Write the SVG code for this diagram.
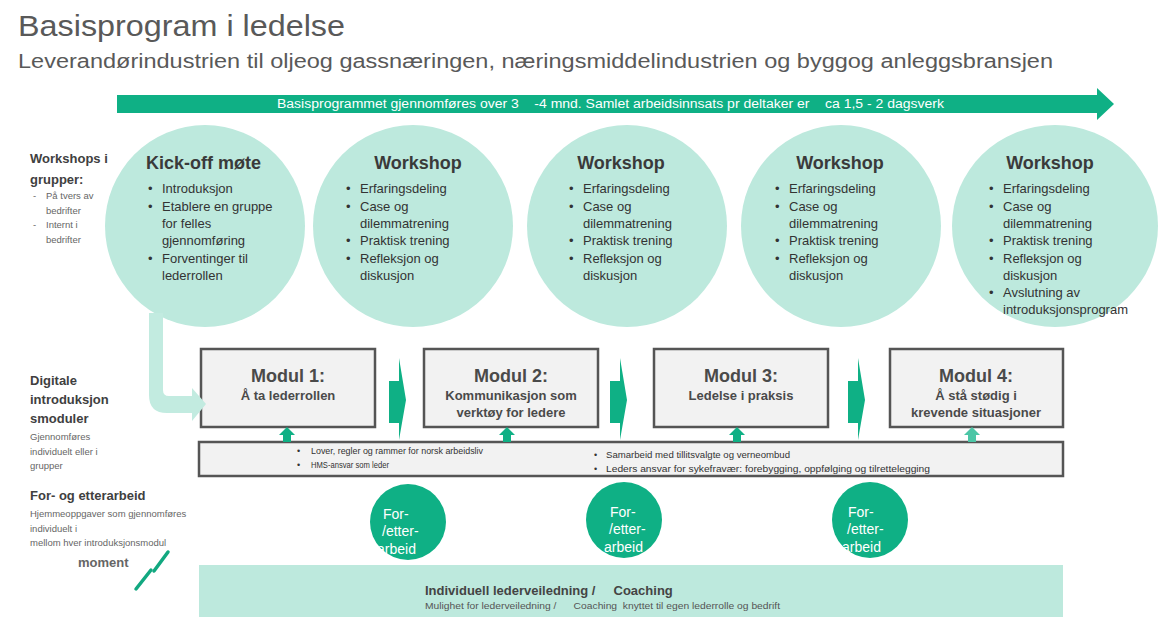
<svg xmlns="http://www.w3.org/2000/svg" width="1173" height="636" viewBox="0 0 1173 636">
<style>
  text { font-family: "Liberation Sans", Arial, sans-serif; }
  .pre { white-space: pre; }
  .title { font-size: 30px; fill: #595959; }
  .sub { font-size: 20px; fill: #595959; }
  .lbl { font-size: 13px; font-weight: bold; fill: #404040; }
  .small { font-size: 9.5px; fill: #666; }
  .ctitle { font-size: 18px; font-weight: bold; fill: #3a3a3a; }
  .ctext { font-size: 13px; fill: #333; }
  .mtitle { font-size: 18px; font-weight: bold; fill: #4a4a4a; text-anchor: middle; }
  .msub { font-size: 13px; font-weight: bold; fill: #4a4a4a; text-anchor: middle; }
  .bar { font-size: 9px; fill: #333; }
  .wc { fill: #bde9dd; }
  .box { fill: #f2f2f2; stroke: #555; stroke-width: 2.5; }
  .dark { fill: #0fb085; }
  .fe { font-size: 14px; fill: #fff; }
</style>
<defs>
  <path id="chev" d="M0,23 L10,23 L10,0 L17,42 L10,82 L10,65 L0,65 Z"/>
  <path id="up" d="M-8,8 L0,0 L8,8 L4,8 L4,15 L-4,15 L-4,8 Z"/>
</defs>
<rect width="1173" height="636" fill="#fff"/>

<g id="header">
  <text class="title" x="18" y="36" textLength="327" lengthAdjust="spacingAndGlyphs">Basisprogram i ledelse</text>
  <text class="sub" x="18" y="68" textLength="1035" lengthAdjust="spacingAndGlyphs">Leverandørindustrien til oljeog gassnæringen, næringsmiddelindustrien og byggog anleggsbransjen</text>
</g>

<g id="timeline">
  <path class="dark" d="M117,95 L1097,95 L1097,88 L1114,104 L1097,120 L1097,113 L117,113 Z"/>
  <text class="pre" xml:space="preserve" x="277" y="108" font-size="12" fill="#fff" textLength="667" lengthAdjust="spacingAndGlyphs">Basisprogrammet gjennomføres over 3    -4 mnd. Samlet arbeidsinnsats pr deltaker er    ca 1,5 - 2 dagsverk</text>
</g>

<g id="left-labels">
  <text class="lbl" x="30" y="163">Workshops i</text>
  <text class="lbl" x="30" y="184">grupper:</text>
  <text class="small" x="33" y="199" font-size="9">-</text>
  <text class="small" x="46" y="199" font-size="9">På tvers av</text>
  <text class="small" x="46" y="214" font-size="9">bedrifter</text>
  <text class="small" x="33" y="228" font-size="9">-</text>
  <text class="small" x="46" y="228" font-size="9">Internt i</text>
  <text class="small" x="46" y="243" font-size="9">bedrifter</text>

  <text class="lbl" x="30" y="385">Digitale</text>
  <text class="lbl" x="30" y="404">introduksjon</text>
  <text class="lbl" x="30" y="423">smoduler</text>
  <text class="small" x="30" y="440">Gjennomføres</text>
  <text class="small" x="30" y="455">individuelt eller i</text>
  <text class="small" x="30" y="469">grupper</text>

  <text class="lbl" x="30" y="500">For- og etterarbeid</text>
  <text class="small" x="30" y="517">Hjemmeoppgaver som gjennomføres</text>
  <text class="small" x="30" y="532">individuelt i</text>
  <text class="small" x="30" y="546">mellom hver introduksjonsmodul</text>
  <text x="78" y="567" font-size="13" font-weight="bold" fill="#666">moment</text>
  <g stroke="#12a880" stroke-width="3.5" stroke-linecap="round">
    <line x1="136" y1="589" x2="151" y2="570"/>
    <line x1="154" y1="571" x2="168" y2="552"/>
  </g>
</g>

<g id="kickoff">
  <ellipse class="wc" cx="205" cy="226" rx="100" ry="101"/>
  <text class="ctitle" x="146" y="169">Kick-off møte</text>
  <g class="ctext">
    <text x="148" y="193">•</text><text x="162" y="193">Introduksjon</text>
    <text x="148" y="211">•</text><text x="162" y="211">Etablere en gruppe</text>
    <text x="162" y="228">for felles</text>
    <text x="162" y="245">gjennomføring</text>
    <text x="148" y="263">•</text><text x="162" y="263">Forventinger til</text>
    <text x="162" y="280">lederrollen</text>
  </g>
</g>

<g id="workshop1">
  <ellipse class="wc" cx="413" cy="226" rx="100" ry="101"/>
  <text class="ctitle" x="418" y="169" text-anchor="middle">Workshop</text>
  <g class="ctext">
    <text x="346" y="193">•</text><text x="360" y="193">Erfaringsdeling</text>
    <text x="346" y="211">•</text><text x="360" y="211">Case og</text>
    <text x="360" y="228">dilemmatrening</text>
    <text x="346" y="245">•</text><text x="360" y="245">Praktisk trening</text>
    <text x="346" y="263">•</text><text x="360" y="263">Refleksjon og</text>
    <text x="360" y="280">diskusjon</text>
  </g>
</g>

<g id="workshop2">
  <ellipse class="wc" cx="627" cy="226" rx="100" ry="101"/>
  <text class="ctitle" x="621" y="169" text-anchor="middle">Workshop</text>
  <g class="ctext">
    <text x="569" y="193">•</text><text x="583" y="193">Erfaringsdeling</text>
    <text x="569" y="211">•</text><text x="583" y="211">Case og</text>
    <text x="583" y="228">dilemmatrening</text>
    <text x="569" y="245">•</text><text x="583" y="245">Praktisk trening</text>
    <text x="569" y="263">•</text><text x="583" y="263">Refleksjon og</text>
    <text x="583" y="280">diskusjon</text>
  </g>
</g>

<g id="workshop3">
  <ellipse class="wc" cx="841" cy="226" rx="100" ry="101"/>
  <text class="ctitle" x="840" y="169" text-anchor="middle">Workshop</text>
  <g class="ctext">
    <text x="775" y="193">•</text><text x="789" y="193">Erfaringsdeling</text>
    <text x="775" y="211">•</text><text x="789" y="211">Case og</text>
    <text x="789" y="228">dilemmatrening</text>
    <text x="775" y="245">•</text><text x="789" y="245">Praktisk trening</text>
    <text x="775" y="263">•</text><text x="789" y="263">Refleksjon og</text>
    <text x="789" y="280">diskusjon</text>
  </g>
</g>

<g id="workshop4">
  <ellipse class="wc" cx="1055" cy="226" rx="103" ry="101"/>
  <text class="ctitle" x="1050" y="169" text-anchor="middle">Workshop</text>
  <g class="ctext">
    <text x="989" y="193">•</text><text x="1003" y="193">Erfaringsdeling</text>
    <text x="989" y="211">•</text><text x="1003" y="211">Case og</text>
    <text x="1003" y="228">dilemmatrening</text>
    <text x="989" y="245">•</text><text x="1003" y="245">Praktisk trening</text>
    <text x="989" y="263">•</text><text x="1003" y="263">Refleksjon og</text>
    <text x="1003" y="280">diskusjon</text>
    <text x="989" y="297">•</text><text x="1003" y="297">Avslutning av</text>
    <text x="1003" y="314">introduksjonsprogram</text>
  </g>
</g>

<g id="modul1">
  <rect class="box" x="201" y="349" width="174" height="78"/>
  <text class="mtitle" x="288" y="382">Modul 1:</text>
  <text class="msub" x="288" y="400">Å ta lederrollen</text>
</g>
<g id="modul2">
  <rect class="box" x="424" y="349" width="174" height="78"/>
  <text class="mtitle" x="511" y="382">Modul 2:</text>
  <text class="msub" x="511" y="400">Kommunikasjon som</text>
  <text class="msub" x="511" y="417">verktøy for ledere</text>
</g>
<g id="modul3">
  <rect class="box" x="654" y="349" width="174" height="78"/>
  <text class="mtitle" x="741" y="382">Modul 3:</text>
  <text class="msub" x="741" y="400">Ledelse i praksis</text>
</g>
<g id="modul4">
  <rect class="box" x="890" y="349" width="173" height="78"/>
  <text class="mtitle" x="976" y="382">Modul 4:</text>
  <text class="msub" x="976" y="400">Å stå stødig i</text>
  <text class="msub" x="976" y="417">krevende situasjoner</text>
</g>

<g id="topics-bar">
  <rect class="box" x="199" y="442" width="864" height="34"/>
  <g class="bar">
    <text x="297" y="454">•</text><text x="311" y="454" textLength="172" lengthAdjust="spacingAndGlyphs">Lover, regler og rammer for norsk arbeidsliv</text>
    <text x="297" y="468">•</text><text x="311" y="468" textLength="78" lengthAdjust="spacingAndGlyphs">HMS-ansvar som leder</text>
    <text x="594" y="458">•</text><text x="606" y="458" textLength="184" lengthAdjust="spacingAndGlyphs">Samarbeid med tillitsvalgte og verneombud</text>
    <text x="594" y="472">•</text><text x="606" y="472" textLength="324" lengthAdjust="spacingAndGlyphs">Leders ansvar for sykefravær: forebygging, oppfølging og tilrettelegging</text>
  </g>
</g>

<g id="coaching">
  <rect x="199" y="565" width="864" height="52" fill="#bde9dd"/>
  <text class="pre" xml:space="preserve" x="425" y="595" font-size="13" font-weight="bold" fill="#444">Individuell lederveiledning /     Coaching</text>
  <text class="pre" xml:space="preserve" x="425" y="609" font-size="9" fill="#555" textLength="355" lengthAdjust="spacingAndGlyphs">Mulighet for lederveiledning /      Coaching  knyttet til egen lederrolle og bedrift</text>
</g>

<g id="for-etter-1">
  <circle class="dark" cx="408" cy="522" r="38"/>
  <text class="fe" x="383" y="519">For-</text>
  <text class="fe" x="382" y="536">/etter-</text>
  <text class="fe" x="377" y="554">arbeid</text>
</g>
<g id="for-etter-2">
  <circle class="dark" cx="624" cy="520" r="38"/>
  <text class="fe" x="610" y="517">For-</text>
  <text class="fe" x="609" y="534">/etter-</text>
  <text class="fe" x="604" y="552">arbeid</text>
</g>
<g id="for-etter-3">
  <circle class="dark" cx="870" cy="520" r="38"/>
  <text class="fe" x="848" y="517">For-</text>
  <text class="fe" x="847" y="534">/etter-</text>
  <text class="fe" x="842" y="552">arbeid</text>
</g>

<g id="connectors">
  <path d="M149,313 L163,313 L163,390 Q163,396 169,396 L192,396 L192,388 L206,404 L192,421 L192,413 L167,413 Q149,413 149,395 Z" fill="#c2ebe0"/>
  <use href="#chev" x="389" y="358" class="dark"/>
  <use href="#chev" x="610" y="358" class="dark"/>
  <use href="#chev" x="848" y="358" class="dark"/>
  <use href="#up" x="287" y="427" class="dark"/>
  <use href="#up" x="507" y="427" class="dark"/>
  <use href="#up" x="737" y="427" class="dark"/>
  <use href="#up" x="972" y="427" fill="#4cc6a6"/>
</g>
</svg>
